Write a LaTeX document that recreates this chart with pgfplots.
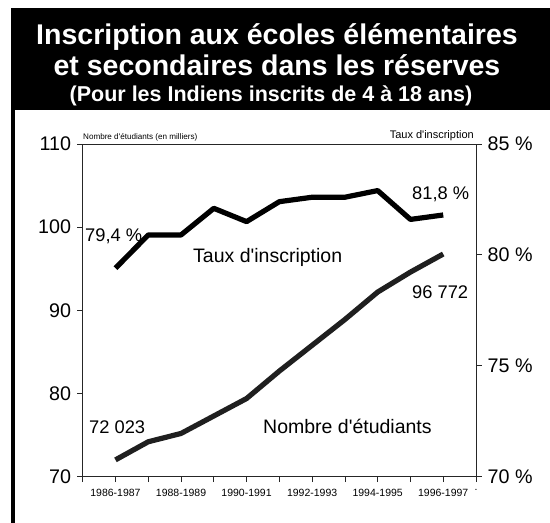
\documentclass[border=0pt]{standalone}
\usepackage{fontspec}
\setmainfont{Liberation Sans}
\usepackage{pgfplots}
\pgfplotsset{compat=1.18}
\newcommand{\fs}[1]{\fontsize{#1}{#1}\selectfont}
\newcommand{\q}{\textquotesingle}
\begin{document}
\begin{tikzpicture}
\path[use as bounding box] (0pt,0pt) rectangle (550pt,523pt);
% title box and left border
\fill[black] (11pt,413pt) rectangle (552pt,515pt);
\fill[black] (11pt,-2pt) rectangle (15pt,414pt);
\node[white,anchor=base,inner sep=0pt] at (277pt,478pt) {\fs{28.5}\bfseries Inscription aux écoles élémentaires};
\node[white,anchor=base,inner sep=0pt] at (277pt,447pt) {\fs{28.5}\bfseries et secondaires dans les réserves};
\node[white,anchor=base,inner sep=0pt] at (271pt,421pt) {\fs{21.5}\bfseries (Pour les Indiens inscrits de 4 à 18 ans)};

\begin{axis}[
  at={(82.7pt,46.3pt)}, anchor=south west,
  scale only axis, width=393.3pt, height=332.7pt,
  xmin=0, xmax=12, ymin=70, ymax=110,
  axis line style={black!85, line width=0.8pt},
  tick style={black!85, line width=0.8pt},
  tick align=outside, major tick length=5.5pt,
  xtick={0,...,12},
  xticklabels={,1986-1987,,1988-1989,,1990-1991,,1992-1993,,1994-1995,,1996-1997,.},
  xtick pos=lower, ytick pos=left,
  ytick={70,80,90,100,110},
  yticklabels={70,80,90,100,110},
  xticklabel style={font=\fs{10.5}, inner sep=0pt, yshift=-7pt},
  yticklabel style={font=\fs{19.7}, inner sep=0pt, xshift=-6pt},
]
\addplot[black!88, line width=5.2pt, line join=round] coordinates {
 (1,72.023) (2,74.2) (3,75.2) (4,77.3) (5,79.4) (6,82.7) (7,85.8) (8,88.9) (9,92.2) (10,94.6) (11,96.772)};
\end{axis}

\begin{axis}[
  at={(82.7pt,46.3pt)}, anchor=south west,
  scale only axis, width=393.3pt, height=332.7pt,
  xmin=0, xmax=12, ymin=70, ymax=85,
  axis x line=none, axis y line*=right,
  axis line style={black!85, line width=0.8pt, -},
  tick style={black!85, line width=0.8pt},
  tick align=outside, major tick length=5.5pt,
  ytick={70,75,80,85},
  yticklabels={70 \%,75 \%,80 \%,85 \%},
  yticklabel style={font=\fs{19.7}, inner sep=0pt, xshift=6pt},
]
\addplot[black, line width=5.2pt, line join=round] coordinates {
 (1,79.4) (2,80.9) (3,80.9) (4,82.1) (5,81.5) (6,82.4) (7,82.6) (8,82.6) (9,82.9) (10,81.6) (11,81.8)};
\end{axis}

% annotations
\node[anchor=base west,inner sep=0pt] at (83pt,383.5pt) {\fs{8.1}Nombre d\q étudiants (en milliers)};
\node[anchor=base east,inner sep=0pt] at (474pt,384.5pt) {\fs{11}Taux d\q inscription};
\node[anchor=base west,inner sep=0pt] at (85pt,281.3pt) {\fs{18.3}79,4 \%};
\node[anchor=base west,inner sep=0pt] at (193pt,260.3pt) {\fs{19.5}Taux d\q inscription};
\node[anchor=base west,inner sep=0pt] at (412pt,323pt) {\fs{18.3}81,8 \%};
\node[anchor=base west,inner sep=0pt] at (412pt,224.7pt) {\fs{18.3}96 772};
\node[anchor=base west,inner sep=0pt] at (89pt,89pt) {\fs{18.3}72 023};
\node[anchor=base west,inner sep=0pt] at (263pt,89pt) {\fs{19.5}Nombre d\q étudiants};
\end{tikzpicture}
\end{document}
